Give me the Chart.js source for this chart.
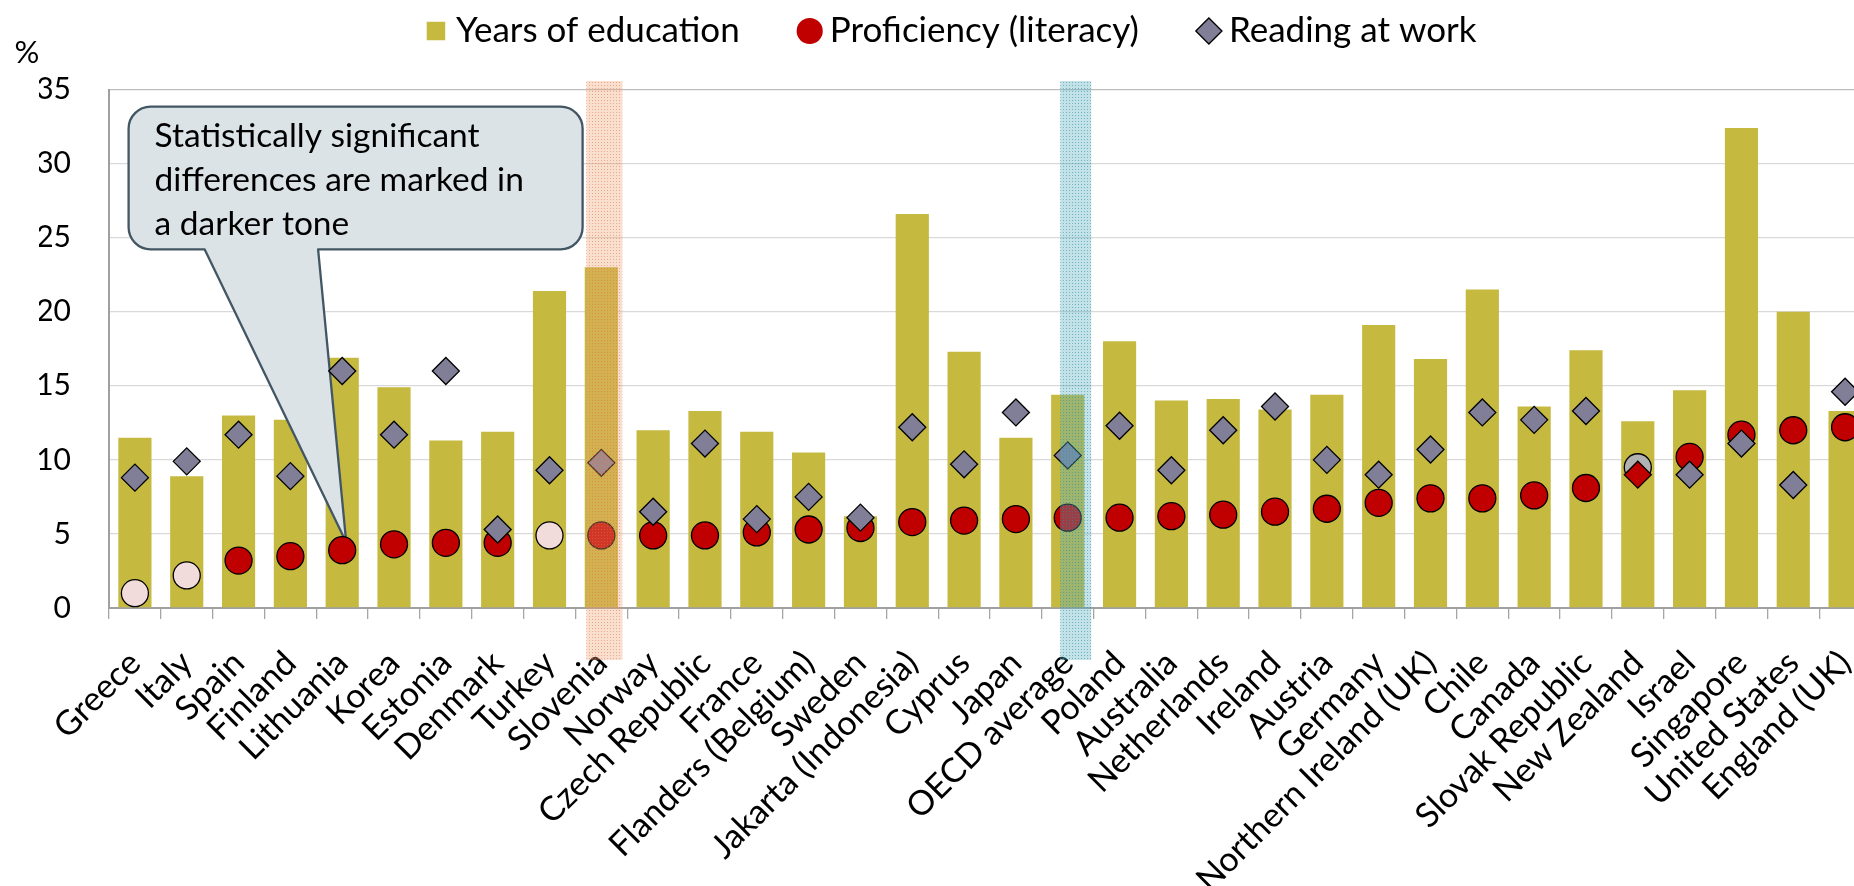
<!DOCTYPE html>
<html>
<head>
<meta charset="utf-8">
<script src="https://cdn.jsdelivr.net/npm/chart.js@4.4.1/dist/chart.umd.min.js"></script>
<style>
html,body{margin:0;padding:0;width:1854px;height:886px;overflow:hidden;background:#fff;}
canvas{display:block;}
</style>
</head>
<body>
<canvas id="c" width="1871" height="886"></canvas>
<script>
// ---------------- DATA ----------------
const categories = ['Greece','Italy','Spain','Finland','Lithuania','Korea','Estonia','Denmark','Turkey','Slovenia',
  'Norway','Czech Republic','France','Flanders (Belgium)','Sweden','Jakarta (Indonesia)','Cyprus','Japan','OECD average',
  'Poland','Australia','Netherlands','Ireland','Austria','Germany','Northern Ireland (UK)','Chile','Canada',
  'Slovak Republic','New Zealand','Israel','Singapore','United States','England (UK)'];
const yearsOfEducation = [11.5, 8.9, 13.0, 12.7, 16.9, 14.9, 11.3, 11.9, 21.4, 23.0,
  12.0, 13.3, 11.9, 10.5, 6.2, 26.6, 17.3, 11.5, 14.4,
  18.0, 14.0, 14.1, 13.4, 14.4, 19.1, 16.8, 21.5, 13.6,
  17.4, 12.6, 14.7, 32.4, 20.0, 13.3];
const proficiencyLiteracy = [1.0, 2.2, 3.2, 3.5, 3.9, 4.3, 4.4, 4.4, 4.9, 4.9,
  4.9, 4.9, 5.1, 5.3, 5.4, 5.8, 5.9, 6.0, 6.1,
  6.1, 6.2, 6.3, 6.5, 6.7, 7.1, 7.4, 7.4, 7.6,
  8.1, 9.5, 10.2, 11.7, 12.0, 12.2];
const readingAtWork = [8.8, 9.9, 11.7, 8.9, 16.0, 11.7, 16.0, 5.3, 9.3, 9.8,
  6.5, 11.1, 6.0, 7.5, 6.1, 12.2, 9.7, 13.2, 10.3,
  12.3, 9.3, 12.0, 13.6, 10.0, 9.0, 10.7, 13.2, 12.7,
  13.3, 9.0, 9.0, 11.1, 8.3, 14.6];
// tone of each marker: 'dark' = significant, 'light' = not significant, 'grey'/'red' = as shown
const proficiencyTone = ['light','light','dark','dark','dark','dark','dark','dark','light','dark',
  'dark','dark','dark','dark','dark','dark','dark','dark','dark',
  'dark','dark','dark','dark','dark','dark','dark','dark','dark',
  'dark','grey','dark','dark','dark','dark'];
const readingTone = ['dark','dark','dark','dark','dark','dark','dark','dark','dark','dark',
  'dark','dark','dark','dark','dark','dark','dark','dark','dark',
  'dark','dark','dark','dark','dark','dark','dark','dark','dark',
  'dark','red','dark','dark','dark','dark'];
const seriesNames = ['Years of education','Proficiency (literacy)','Reading at work'];
const yTicks = [0, 5, 10, 15, 20, 25, 30, 35];
const highlightedCategories = ['Slovenia','OECD average'];
const calloutLines = ['Statistically significant','differences are marked in','a darker tone'];
const calloutTarget = 'Lithuania';
const unitLabel = '%';

// ---------------- STYLE ----------------
const FONT = 'Lato, "Noto Sans", sans-serif';
const BAR_COLOR = '#C5B93F';
const PROF_COLORS = {dark:'#C00000', light:'#F2DCDB', grey:'#B2B2B2'};
const READ_COLORS = {dark:'#807F97', red:'#C00000'};
const HIGHLIGHT_STYLE = {
  'Slovenia':     {dx0:-15, dx1:21, base:'rgba(240,160,115,0.34)', dot:'rgba(215,115,75,0.5)'},
  'OECD average': {dx0:-7.5, dx1:23.5, base:'rgba(85,175,190,0.36)', dot:'rgba(45,140,160,0.55)'}
};

function makeTile(base, dot) {
  const c = document.createElement('canvas');
  c.width = 3; c.height = 3;
  const g = c.getContext('2d');
  g.fillStyle = base; g.fillRect(0, 0, 3, 3);
  g.fillStyle = dot; g.fillRect(1, 1, 1, 1);
  return c;
}

const highlightPlugin = {
  id: 'highlightBands',
  afterDatasetsDraw(chart) {
    const {ctx, chartArea, scales: {x}} = chart;
    highlightedCategories.forEach(name => {
      const st = HIGHLIGHT_STYLE[name];
      const cx = x.getPixelForValue(categories.indexOf(name));
      ctx.save();
      ctx.fillStyle = ctx.createPattern(makeTile(st.base, st.dot), 'repeat');
      const top = chartArea.top - 8.5;
      const bottom = chartArea.bottom + 52;
      ctx.fillRect(cx + st.dx0, top, st.dx1 - st.dx0, bottom - top);
      ctx.restore();
    });
  }
};

const calloutPlugin = {
  id: 'callout',
  afterDatasetDraw(chart, args) {
    if (args.index !== 0) return;
    const {ctx, chartArea, scales: {x, y}} = chart;
    const i = categories.indexOf(calloutTarget);
    const tipX = x.getPixelForValue(i) + 4;
    const tipY = y.getPixelForValue(proficiencyLiteracy[i]) - 8;
    const left = chartArea.left + 19.6, top = chartArea.top + 17.2;
    const w = 454, h = 142.6, r = 22;
    const right = left + w, bottom = top + h;
    const tailL = left + 76, tailR = left + 189.5;
    ctx.save();
    ctx.beginPath();
    ctx.moveTo(left + r, top);
    ctx.lineTo(right - r, top);
    ctx.arcTo(right, top, right, top + r, r);
    ctx.lineTo(right, bottom - r);
    ctx.arcTo(right, bottom, right - r, bottom, r);
    ctx.lineTo(tailR, bottom);
    ctx.lineTo(tipX, tipY);
    ctx.lineTo(tailL, bottom);
    ctx.lineTo(left + r, bottom);
    ctx.arcTo(left, bottom, left, bottom - r, r);
    ctx.lineTo(left, top + r);
    ctx.arcTo(left, top, left + r, top, r);
    ctx.closePath();
    ctx.fillStyle = '#DCE3E7';
    ctx.fill();
    ctx.lineWidth = 2.3;
    ctx.strokeStyle = '#435663';
    ctx.lineJoin = 'round';
    ctx.stroke();
    ctx.fillStyle = '#000';
    ctx.font = '33.5px ' + FONT;
    ctx.textAlign = 'left';
    ctx.textBaseline = 'alphabetic';
    calloutLines.forEach((t, k) => ctx.fillText(t, left + 26, top + 40.5 + k * 44));
    ctx.restore();
  }
};

const unitPlugin = {
  id: 'unitLabel',
  afterDraw(chart) {
    const {ctx, chartArea} = chart;
    ctx.save();
    ctx.fillStyle = '#000';
    ctx.font = '31px ' + FONT;
    ctx.textAlign = 'center';
    ctx.textBaseline = 'alphabetic';
    ctx.fillText(unitLabel, chartArea.left - 82, chartArea.top - 27);
    ctx.restore();
  }
};

Chart.defaults.font.family = FONT;

const legendStyles = [
  {pointStyle:'rect', fillStyle:BAR_COLOR, strokeStyle:'rgba(0,0,0,0)', lineWidth:0},
  {pointStyle:'circle', fillStyle:PROF_COLORS.dark, strokeStyle:'rgba(0,0,0,0)', lineWidth:0},
  {pointStyle:'rectRot', fillStyle:READ_COLORS.dark, strokeStyle:'#000', lineWidth:1.3}
];

new Chart(document.getElementById('c'), {
  data: {
    labels: categories,
    datasets: [
      {type:'bar', label:seriesNames[0], data:yearsOfEducation, xAxisID:'x', yAxisID:'y',
       backgroundColor:BAR_COLOR, borderWidth:0, barPercentage:0.64, categoryPercentage:1, order:3},
      {type:'line', label:seriesNames[1], data:proficiencyLiteracy, xAxisID:'x', yAxisID:'y',
       showLine:false, pointStyle:'circle', pointRadius:13.5, pointHoverRadius:13.5,
       pointBackgroundColor:proficiencyTone.map(t => PROF_COLORS[t]), pointBorderColor:'#000',
       pointBorderWidth:1.3, pointHoverBorderWidth:1.3, order:2},
      {type:'line', label:seriesNames[2], data:readingAtWork, xAxisID:'x', yAxisID:'y',
       showLine:false, pointStyle:'rectRot', pointRadius:13.5, pointHoverRadius:13.5,
       pointBackgroundColor:readingTone.map(t => READ_COLORS[t]), pointBorderColor:'#000',
       pointBorderWidth:1.3, pointHoverBorderWidth:1.3, order:1}
    ]
  },
  options: {
    responsive:false,
    animation:false,
    events:[],
    layout:{autoPadding:false, padding:{top:-54, left:39, right:0, bottom:0}},
    plugins:{
      tooltip:{enabled:false},
      legend:{
        display:true, position:'top', align:'center',
        labels:{
          usePointStyle:true, boxWidth:5, boxHeight:18.5, padding:67.5, color:'#000',
          font:{family:FONT, size:35},
          generateLabels(chart) {
            const items = Chart.defaults.plugins.legend.labels.generateLabels(chart);
            items.sort((a, b) => a.datasetIndex - b.datasetIndex);
            items.forEach((it, k) => Object.assign(it, legendStyles[k]));
            return items;
          }
        }
      }
    },
    scales:{
      x:{
        type:'category', position:'bottom', offset:true,
        grid:{display:true, drawOnChartArea:false, drawTicks:true, tickLength:11, color:'#A6A6A6', lineWidth:1.3, offset:true},
        border:{display:true, color:'#A0A0A0', width:2},
        ticks:{autoSkip:false, minRotation:45, maxRotation:45, padding:24, color:'#000', font:{family:FONT, size:34}},
        afterFit(s){ s.height = 278; s.paddingLeft = 0; s.paddingRight = 0; }
      },
      xTop:{
        type:'category', position:'top', display:true,
        grid:{display:false}, border:{display:false}, ticks:{display:false},
        afterFit(s){ s.height = 31; s.paddingLeft = 0; s.paddingRight = 0; }
      },
      y:{
        type:'linear', position:'left', min:0, max:35,
        afterBuildTicks(s){ s.ticks = yTicks.map(v => ({value:v})); },
        ticks:{padding:38, color:'#000', font:{family:FONT, size:30}},
        grid:{color:c => (c.tick && c.tick.value === 35) ? '#BDBDBD' : '#D9D9D9', lineWidth:1.3, drawTicks:false},
        border:{display:true, color:'#A0A0A0', width:2},
        afterFit(s){ s.width = 70; }
      }
    }
  },
  plugins:[calloutPlugin, highlightPlugin, unitPlugin]
});
</script>
</body>
</html>
